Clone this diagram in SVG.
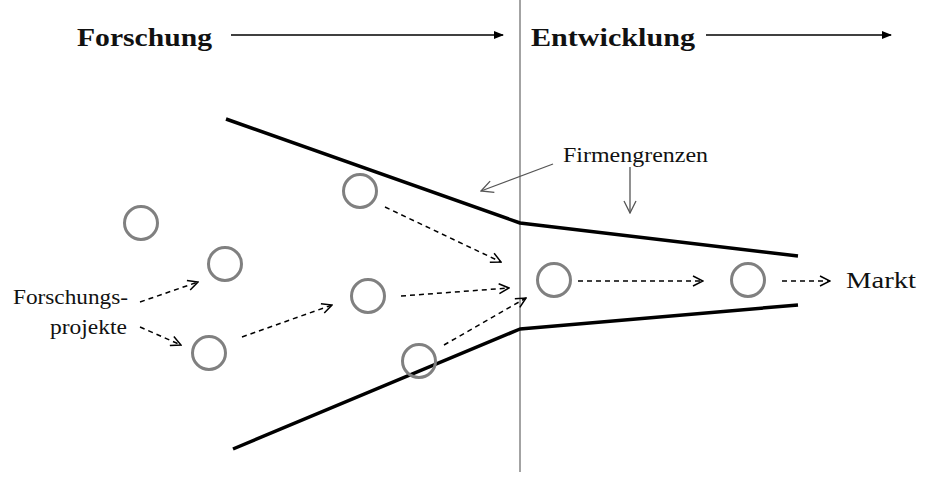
<svg xmlns="http://www.w3.org/2000/svg" width="933" height="477" viewBox="0 0 933 477">
<defs>
<marker id="solid" viewBox="0 0 10 10" refX="9" refY="5" markerWidth="10" markerHeight="10" markerUnits="userSpaceOnUse" orient="auto"><path d="M0,1 L10,5 L0,9 Z" fill="#000"/></marker>
<marker id="open" viewBox="0 0 12 12" refX="11" refY="6" markerWidth="12" markerHeight="12" markerUnits="userSpaceOnUse" orient="auto"><path d="M1,1 L11,6 L1,11" fill="none" stroke="#000" stroke-width="1.5"/></marker>
<marker id="gray" viewBox="0 0 14 14" refX="13" refY="7" markerWidth="14" markerHeight="14" markerUnits="userSpaceOnUse" orient="auto"><path d="M1,1 L13,7 L1,13" fill="none" stroke="#555" stroke-width="1.3"/></marker>
</defs>
<style>
.t{font-family:"Liberation Serif","DejaVu Serif",serif;fill:#111}
.h{font-size:26px;font-weight:bold}
.c{fill:none;stroke:#808080;stroke-width:3}
.b{fill:none;stroke:#000;stroke-width:3.5;stroke-linejoin:round}
.d{fill:none;stroke:#000;stroke-width:1.5;stroke-dasharray:5,4;marker-end:url(#open)}
</style>
<rect width="933" height="477" fill="#fff"/>
<line x1="520" y1="0" x2="520" y2="472" stroke="#666" stroke-width="1.2"/>
<g id="header">
<text class="t h" x="77" y="46" textLength="135" lengthAdjust="spacingAndGlyphs">Forschung</text>
<line x1="231" y1="35" x2="503" y2="35" stroke="#000" stroke-width="1.5" marker-end="url(#solid)"/>
<text class="t h" x="531" y="46" textLength="164" lengthAdjust="spacingAndGlyphs">Entwicklung</text>
<line x1="706" y1="35" x2="891" y2="35" stroke="#000" stroke-width="1.5" marker-end="url(#solid)"/>
</g>
<g id="boundaries">
<polyline class="b" points="226,119 520,223 798,256"/>
<polyline class="b" points="233,449 520,329 798,305"/>
</g>
<g id="firmengrenzen">
<text class="t" x="563" y="162" font-size="20" textLength="145" lengthAdjust="spacingAndGlyphs">Firmengrenzen</text>
<line x1="553" y1="164" x2="481" y2="191" stroke="#555" stroke-width="1.3" marker-end="url(#gray)"/>
<line x1="630" y1="167" x2="630" y2="213" stroke="#555" stroke-width="1.3" marker-end="url(#gray)"/>
</g>
<g id="label-projekte">
<text class="t" x="13" y="304" font-size="20" textLength="115" lengthAdjust="spacingAndGlyphs">Forschungs-</text>
<text class="t" x="50" y="334" font-size="20" textLength="77" lengthAdjust="spacingAndGlyphs">projekte</text>
</g>
<g id="label-markt"><text class="t" x="846" y="288" font-size="24" textLength="70" lengthAdjust="spacingAndGlyphs">Markt</text></g>
<g id="c1"><circle class="c" cx="141" cy="223" r="16.5"/></g>
<g id="c2"><circle class="c" cx="225" cy="264" r="16.5"/></g>
<g id="c3"><circle class="c" cx="360" cy="191" r="16.5"/></g>
<g id="c4"><circle class="c" cx="209" cy="353" r="16.5"/></g>
<g id="c5"><circle class="c" cx="368" cy="296" r="16.5"/></g>
<g id="c6"><circle class="c" cx="419" cy="361" r="16.5"/></g>
<g id="c7"><circle class="c" cx="554" cy="280" r="16.5"/></g>
<g id="c8"><circle class="c" cx="748" cy="280" r="16.5"/></g>
<g id="connectors">
<line class="d" x1="140" y1="302" x2="198" y2="282"/>
<line class="d" x1="140" y1="327" x2="181" y2="345"/>
<line class="d" x1="242" y1="337" x2="332" y2="305"/>
<line class="d" x1="385" y1="207" x2="501" y2="262"/>
<line class="d" x1="401" y1="296" x2="509" y2="288"/>
<line class="d" x1="444" y1="345" x2="526" y2="298"/>
<line class="d" x1="578" y1="281" x2="703" y2="281"/>
<line class="d" x1="782" y1="281" x2="830" y2="281"/>
</g>
</svg>
